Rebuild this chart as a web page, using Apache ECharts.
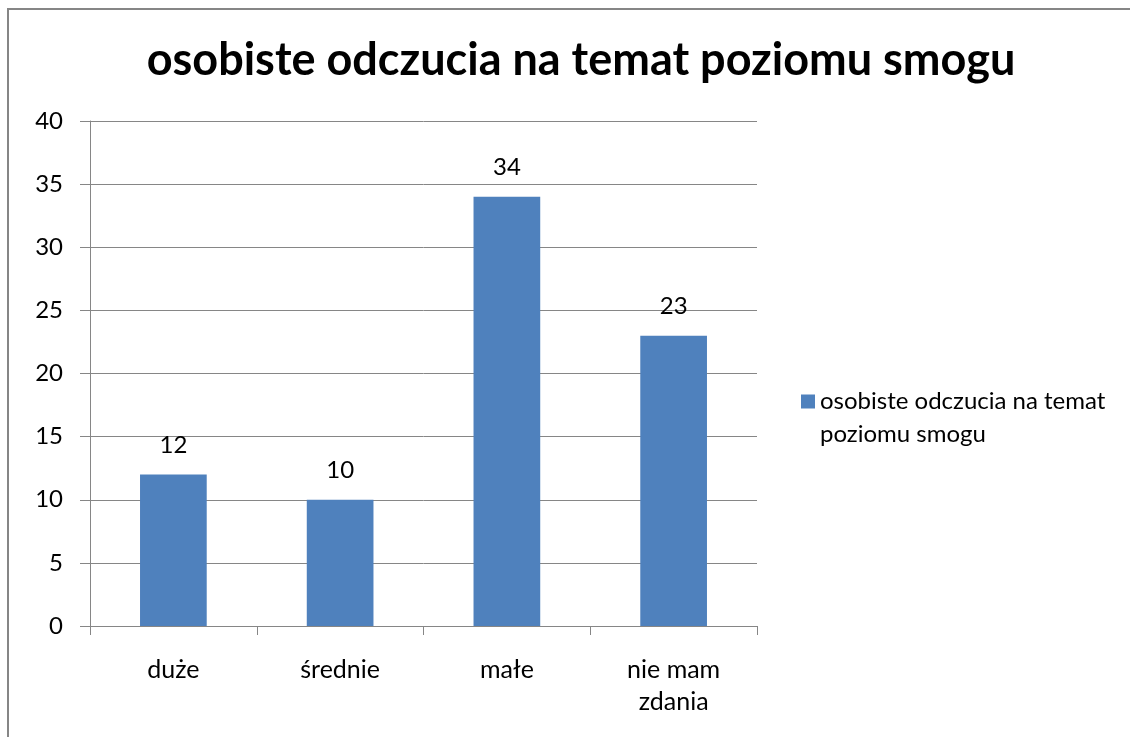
<!DOCTYPE html>
<html>
<head>
<meta charset="utf-8">
<script src="https://cdn.jsdelivr.net/npm/echarts@6/dist/echarts.min.js"></script>
<style>
html,body{margin:0;padding:0;background:#fff;}
#main{width:1130px;height:737px;}
</style>
</head>
<body>
<div id="main"></div>
<script>
const titleText = 'osobiste odczucia na temat poziomu smogu';
const seriesName = 'osobiste odczucia na temat poziomu smogu';
const categories = ['duże', 'średnie', 'małe', 'nie mam\nzdania'];
const values = [12, 10, 34, 23];
const yTicks = { min: 0, max: 40, interval: 5 };

const font = 'Lato, "Open Sans", sans-serif';
const chart = echarts.init(document.getElementById('main'), null, { renderer: 'canvas' });
chart.setOption({
  animation: false,
  backgroundColor: '#fff',
  title: {
    text: titleText,
    left: 576, top: 33,
    textAlign: 'center',
    textStyle: { fontFamily: font, fontWeight: 'bold', fontSize: 45, color: '#000' }
  },
  graphic: [
    { type: 'polyline', shape: { points: [[8, 740], [8, 9], [1132, 9]] },
      style: { stroke: '#868686', lineWidth: 2, fill: null } }
  ],
  legend: {
    left: 801, top: 352, padding: 0,
    itemWidth: 14, itemHeight: 14,
    icon: 'rect',
    formatter: function () { return ' \nosobiste odczucia na temat\npoziomu smogu'; },
    textStyle: { fontFamily: font, fontSize: 24, color: '#000', lineHeight: 33 },
    data: [seriesName]
  },
  grid: { left: 90, right: 373, top: 121, bottom: 111, containLabel: false },
  xAxis: {
    type: 'category',
    data: categories,
    axisLine: { lineStyle: { color: '#868686', width: 1 } },
    axisTick: { show: true, length: 9, lineStyle: { color: '#868686' } },
    axisLabel: { interval: 0, margin: 28, fontFamily: font, fontSize: 25, color: '#000', lineHeight: 32 }
  },
  yAxis: {
    type: 'value',
    min: yTicks.min, max: yTicks.max, interval: yTicks.interval,
    axisLine: { show: true, lineStyle: { color: '#868686', width: 1 } },
    axisTick: { show: true, length: 10, lineStyle: { color: '#868686' } },
    splitLine: { lineStyle: { color: '#868686', width: 1 } },
    axisLabel: { margin: 27, fontFamily: font, fontSize: 24, color: '#000' }
  },
  series: [{
    name: seriesName,
    type: 'bar',
    data: values,
    barWidth: '40%',
    itemStyle: { color: '#4F81BD' },
    label: { show: true, position: 'top', distance: 17, fontFamily: font, fontSize: 24, color: '#000' }
  }]
});
</script>
</body>
</html>
